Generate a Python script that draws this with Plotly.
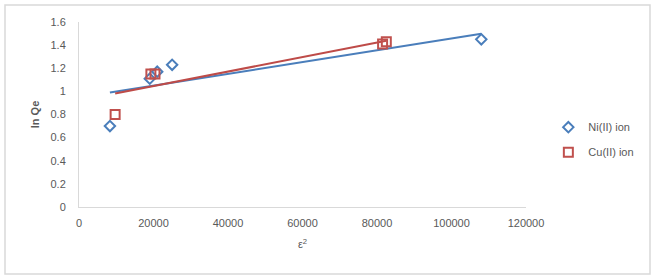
import numpy as np
import plotly.graph_objects as go

# Data
ni_x = [8300, 19000, 21000, 25000, 108000]
ni_y = [0.70, 1.11, 1.17, 1.23, 1.45]
cu_x = [9700, 19300, 20400, 81500, 82500]
cu_y = [0.80, 1.15, 1.15, 1.41, 1.43]
series_names = ["Ni(II) ion", "Cu(II) ion"]
x_ticks = [0, 20000, 40000, 60000, 80000, 100000, 120000]
y_ticks = [0, 0.2, 0.4, 0.6, 0.8, 1, 1.2, 1.4, 1.6]

BLUE = "#4A7EBB"
RED = "#C0504D"
TXT = "#595959"
FONT = "Liberation Sans, Arial, sans-serif"


def trend(xs, ys):
    k, b = np.polyfit(xs, ys, 1)
    xx = np.array([min(xs), max(xs)])
    return xx, k * xx + b


fig = go.Figure()
tx, ty = trend(ni_x, ni_y)
fig.add_trace(go.Scatter(x=tx, y=ty, mode="lines", line=dict(color=BLUE, width=2),
                         showlegend=False, hoverinfo="skip"))
tx, ty = trend(cu_x, cu_y)
fig.add_trace(go.Scatter(x=tx, y=ty, mode="lines", line=dict(color="#BE4B48", width=2),
                         showlegend=False, hoverinfo="skip"))
fig.add_trace(go.Scatter(x=ni_x, y=ni_y, mode="markers", name=series_names[0],
                         legendgroup="a",
                         marker=dict(symbol="diamond-open", size=8, color=BLUE,
                                     line=dict(width=2, color=BLUE))))
fig.add_trace(go.Scatter(x=cu_x, y=cu_y, mode="markers", name=series_names[1],
                         legendgroup="b",
                         marker=dict(symbol="square-open", size=9, color=RED,
                                     line=dict(width=2, color=RED))))

fig.update_layout(
    width=658, height=278,
    margin=dict(l=79, r=132, t=22, b=71),
    paper_bgcolor="white", plot_bgcolor="white",
    font=dict(family=FONT, size=11, color=TXT),
    legend=dict(x=1.05, xanchor="left", y=0.51, yanchor="top",
                font=dict(size=11, color=TXT), tracegroupgap=6,
                bgcolor="rgba(0,0,0,0)"),
    xaxis=dict(range=[0, 120000], tickvals=x_ticks, ticktext=[str(v) for v in x_ticks],
               showgrid=False, zeroline=False, showline=True, linecolor="#D9D9D9",
               linewidth=1, ticks="", ticklabelstandoff=6,
               title=dict(text="ε<sup>2</sup>", font=dict(size=11, color=TXT), standoff=12)),
    yaxis=dict(range=[0, 1.6], tickvals=y_ticks, ticktext=[f"{v:g}" for v in y_ticks],
               showgrid=False, zeroline=False, showline=True, linecolor="#D9D9D9",
               linewidth=1, ticks="", ticklabelstandoff=10,
               title=dict(text="<b>ln Qe</b>", font=dict(size=11, color=TXT), standoff=8)),
    shapes=[dict(type="rect", xref="paper", yref="paper",
                 x0=(5 - 79) / 447, x1=(650 - 79) / 447,
                 y0=(207 - 274) / 185, y1=(207 - 5) / 185,
                 line=dict(color="#D9D9D9", width=1.5), layer="below")],
)

fig.write_html("out.html")
